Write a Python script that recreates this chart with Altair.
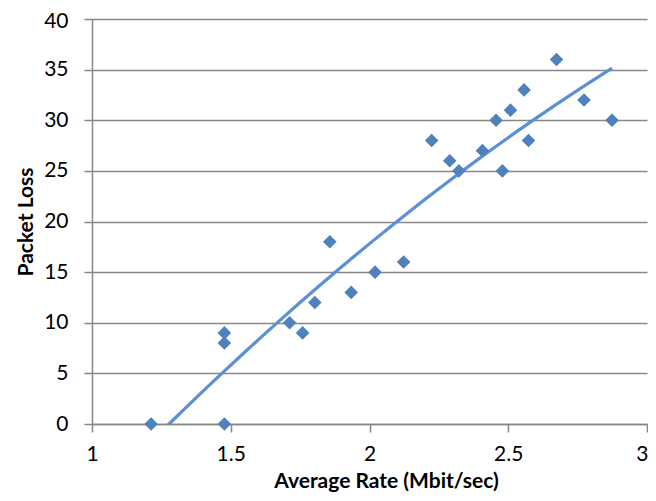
import altair as alt
import pandas as pd

rate = [1.213, 1.477, 1.477, 1.477, 1.712, 1.759, 1.803, 1.857, 1.934, 2.02,
        2.123, 2.224, 2.289, 2.322, 2.407, 2.456, 2.479, 2.508, 2.557, 2.573,
        2.674, 2.773, 2.874]
loss = [0, 0, 9, 8, 10, 9, 12, 18, 13, 15,
        16, 28, 26, 25, 27, 30, 25, 31, 33, 28,
        36, 32, 30]
x_ticks = [1, 1.5, 2, 2.5, 3]
y_ticks = [0, 5, 10, 15, 20, 25, 30, 35, 40]

df = pd.DataFrame({"rate": rate, "loss": loss})

FONT = "Lato"
GRID = "#878787"

xenc = alt.X("rate:Q", scale=alt.Scale(domain=[1, 3], nice=False),
             axis=alt.Axis(values=x_ticks, format=".1~f", grid=False,
                           title="Average Rate (Mbit/sec)", tickSize=8,
                           labelPadding=11, labelFlush=False,
                           labelAlign={"condition": {"test": "datum.value >= 3", "value": "right"},
                                       "value": "center"},
                           labelOffset={"condition": {"test": "datum.value >= 3", "value": 1},
                                        "value": 0},
                           titleX=294, titleY=63,
                           titleBaseline="alphabetic", titleAlign="center"))
yenc = alt.Y("loss:Q", scale=alt.Scale(domain=[0, 40], nice=False),
             axis=alt.Axis(values=y_ticks, grid=True, title="Packet Loss",
                           tickSize=8, labelPadding=16, titleX=-60,
                           labelOffset={"condition": {"test": "datum.value >= 40", "value": 2},
                                        "value": 0},
                           titleBaseline="alphabetic"))

points = alt.Chart(df).mark_point(shape="diamond", filled=True, size=185,
                                  color="#4F81BD", opacity=1).encode(x=xenc, y=yenc)

trend = alt.Chart(df).transform_regression(
    "rate", "loss", method="poly", order=2, extent=[1.213, 2.874]
).mark_line(color="#5B8FD6", strokeWidth=3.2, clip=True).encode(x="rate:Q", y="loss:Q")

chart = alt.layer(trend, points).properties(
    width=555, height=405,
    autosize=alt.AutoSizeParams(type="none"),
    padding={"left": 84, "top": 11, "right": 1, "bottom": 69},
).configure_view(stroke=None).configure_axis(
    domainColor=GRID, tickColor=GRID, gridColor=GRID, domainWidth=1.5,
    gridWidth=1.5, tickWidth=1.5,
    labelFont=FONT, labelFontSize=21, labelColor="#000000",
    titleFont=FONT, titleFontSize=21, titleFontWeight="bold", titleColor="#000000",
)

chart.save("out.html", embed_options={"renderer": "svg", "actions": False})
